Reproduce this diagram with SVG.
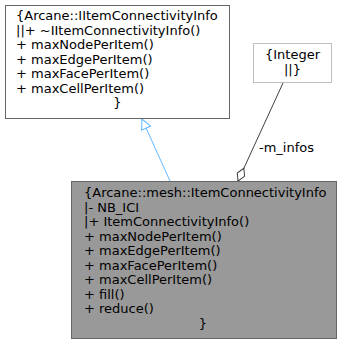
<svg xmlns="http://www.w3.org/2000/svg" width="341" height="344" viewBox="0 0 341 344">
  <style>
    text { font-family: "DejaVu Sans", sans-serif; font-size: 13px; fill: #000; }
    .box { fill: #ffffff; stroke: #666666; stroke-width: 1; }
    .cur { fill: #999999; stroke: #666666; stroke-width: 1; }
    .ext { fill: #ffffff; stroke: #bfbfbf; stroke-width: 1; }
    .inh { fill: none; stroke: #63b8ff; stroke-width: 1; }
    .comp { fill: none; stroke: #404040; stroke-width: 1; }
    .mid { text-anchor: middle; }
  </style>
  <defs>
    <marker id="hollowTri" viewBox="0 0 12 12" refX="11" refY="6" markerWidth="12" markerHeight="12" markerUnits="userSpaceOnUse" orient="auto">
      <path d="M1,1 L11,6 L1,11 Z" fill="#ffffff" stroke="#63b8ff" stroke-width="1"/>
    </marker>
    <marker id="diamond" viewBox="0 0 16 10" refX="15" refY="5" markerWidth="16" markerHeight="10" markerUnits="userSpaceOnUse" orient="auto">
      <path d="M1,5 L8,1 L15,5 L8,9 Z" fill="#ffffff" stroke="#404040" stroke-width="1"/>
    </marker>
  </defs>

  <g id="edges">
    <path class="inh" d="M170,181 L142,119" marker-end="url(#hollowTri)"/>
    <path class="comp" d="M283,83 L238,181" marker-end="url(#diamond)"/>
    <text x="259" y="152">-m_infos</text>
  </g>

  <g id="node-IItemConnectivityInfo">
    <rect class="box" x="5.5" y="5.5" width="224" height="113"/>
    <text x="16" y="20">{Arcane::IItemConnectivityInfo</text>
    <text x="16" y="34.5">||+ ~IItemConnectivityInfo()</text>
    <text x="16" y="49">+ maxNodePerItem()</text>
    <text x="16" y="63.5">+ maxEdgePerItem()</text>
    <text x="16" y="78">+ maxFacePerItem()</text>
    <text x="16" y="92.5">+ maxCellPerItem()</text>
    <text x="117.5" y="107" class="mid">}</text>
  </g>

  <g id="node-Integer">
    <rect class="ext" x="253.5" y="43.5" width="78" height="39"/>
    <text x="292.5" y="59" class="mid">{Integer</text>
    <text x="292.5" y="73.5" class="mid">||}</text>
  </g>

  <g id="node-ItemConnectivityInfo">
    <rect class="cur" x="71.5" y="181.5" width="265" height="157"/>
    <text x="84" y="197">{Arcane::mesh::ItemConnectivityInfo</text>
    <text x="84" y="211.5">|- NB_ICI</text>
    <text x="84" y="226">|+ ItemConnectivityInfo()</text>
    <text x="84" y="240.5">+ maxNodePerItem()</text>
    <text x="84" y="255">+ maxEdgePerItem()</text>
    <text x="84" y="269.5">+ maxFacePerItem()</text>
    <text x="84" y="284">+ maxCellPerItem()</text>
    <text x="84" y="298.5">+ fill()</text>
    <text x="84" y="313">+ reduce()</text>
    <text x="203" y="327.5" class="mid">}</text>
  </g>
</svg>
